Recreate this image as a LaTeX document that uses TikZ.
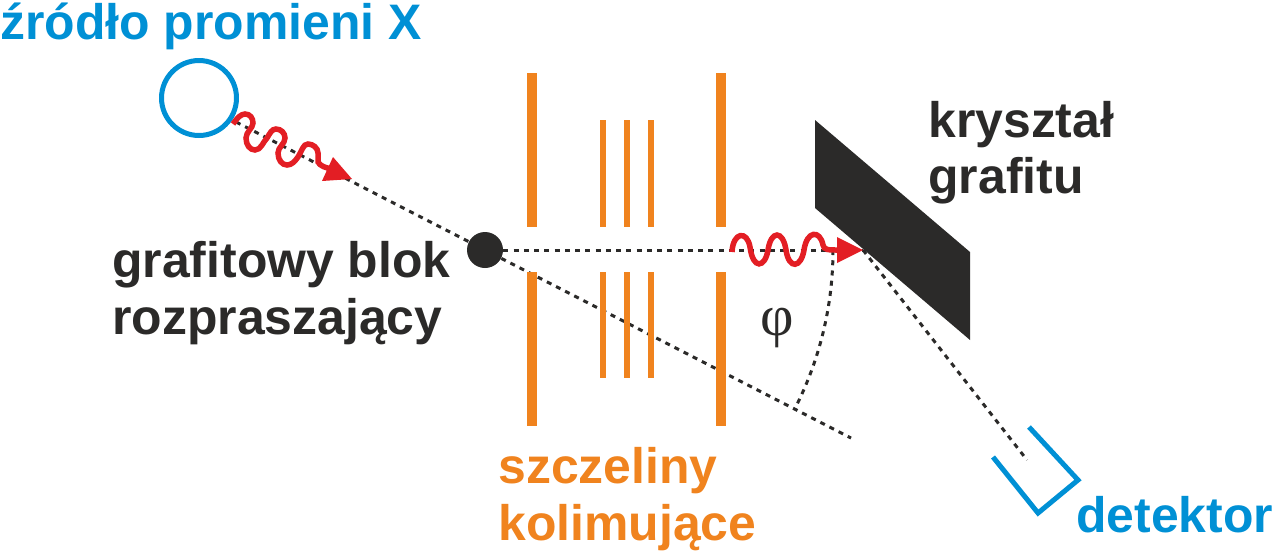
\documentclass[tikz,border=0pt]{standalone}
\usepackage{fontspec}
\setmainfont{Liberation Sans}
\newfontfamily\greekfont{Liberation Serif}
\usepackage{tikz}
\definecolor{niebieski}{HTML}{0090D5}
\definecolor{pomaranczowy}{HTML}{F0831E}
\definecolor{czerwony}{HTML}{E31E24}
\definecolor{ciemny}{HTML}{2B2A29}
\tikzset{
	napis/.style={anchor=west, inner sep=0pt, align=left, font=\fontsize{28.4}{32}\selectfont\bfseries},
	kropki/.style={color=ciemny, line width=0.6mm, dash pattern=on 1mm off 1.05mm},
	szczelina/.style={fill=pomaranczowy, draw=none},
	fala/.style={color=czerwony, line width=1.1mm},
	grot/.style={fill=czerwony, draw=none}
}

\begin{document}
\begin{tikzpicture}[x=0.02cm, y=-0.02cm]
			%%%%% START %%%%%
			
			\useasboundingbox (0, 0) rectangle (1273, 555);
			
			\node[draw=niebieski, line width=1mm, circle, minimum size=1.5cm, inner sep=0pt] (zrodlo) at (199, 98) {};
			\node[fill=ciemny, circle, minimum size=0.72cm, inner sep=0pt] (blok) at (485, 250) {};
			
			\coordinate (start) at (236, 122);
			\coordinate (odbicie) at (863, 250);
			\coordinate (koniec) at (851, 438);
			\coordinate (wnetrze) at (1027, 460);
			
			\draw[kropki] (start) -- (blok);
			\draw[kropki] (blok) -- (odbicie);
			\draw[kropki] (blok) -- (koniec);
			\draw[kropki] (odbicie) -- (wnetrze);
			\draw[kropki] (833, 250) arc (0:27:349);
			
			\fill[szczelina] (527, 73) rectangle (537, 227);
			\fill[szczelina] (527, 272) rectangle (537, 426);
			\fill[szczelina] (716, 73) rectangle (726, 227);
			\fill[szczelina] (716, 272) rectangle (726, 426);
			
			\foreach \x in {603, 627, 651} {
				\fill[szczelina] (\x-3, 120) rectangle (\x+3, 227);
				\fill[szczelina] (\x-3, 272) rectangle (\x+3, 378);
			}
			
			\fill[color=ciemny] (815, 120) -- (970, 252) -- (970, 340) -- (815, 208) -- cycle;
			
			\draw[fala] (233, 124) .. controls (237, 118) and (241, 114) .. (245, 114)
				.. controls (250, 114) and (253, 118) .. (253, 123)
				.. controls (253, 128) and (246, 132) .. (246, 138)
				.. controls (246, 145) and (250, 150) .. (255, 150)
				.. controls (261, 150) and (263, 142) .. (267, 138)
				.. controls (270, 133) and (272, 129) .. (276, 129)
				.. controls (281, 129) and (285, 133) .. (285, 138)
				.. controls (285, 144) and (278, 147) .. (278, 153)
				.. controls (278, 160) and (282, 165) .. (287, 165)
				.. controls (292, 165) and (295, 161) .. (298, 157)
				.. controls (302, 151) and (303, 144) .. (308, 144)
				.. controls (313, 144) and (318, 148) .. (318, 153)
				.. controls (318, 156) and (318, 158) .. (318, 162)
				.. controls (320, 166) and (326, 168) .. (332, 169);
			\fill[grot] (333, 157) -- (352, 179) -- (322, 181) -- cycle;
			
			\draw[fala] (732, 252) .. controls (733, 232) and (747, 230) .. (750, 247)
				.. controls (753, 270) and (765, 268) .. (768, 250)
				.. controls (771, 230) and (783, 230) .. (786, 250)
				.. controls (789, 270) and (801, 268) .. (804, 250)
				.. controls (807, 230) and (820, 230) .. (823, 245)
				.. controls (824, 250) and (828, 250) .. (838, 250);
			\fill[grot] (837, 237) -- (odbicie) -- (837, 263) -- cycle;
			
			\draw[color=niebieski, line width=1mm] (1029, 427) -- (1078, 480) -- (1038, 513) -- (993, 457);
			
			\node[napis, color=niebieski] (tytul) at (0, 26) {źródło promieni X};
			\node[napis, color=ciemny] (rozpraszacz) at (112, 293) {grafitowy blok\\rozpraszający};
			\node[napis, color=ciemny] (krysztal) at (928, 153) {kryształ\\grafitu};
			\node[napis, color=pomaranczowy] (szczeliny) at (498, 499) {szczeliny\\kolimujące};
			\node[napis, color=niebieski] (detektor) at (1076, 515) {detektor};
			\node[color=ciemny, inner sep=0pt, font=\fontsize{33}{35}\selectfont\greekfont] (kat) at (777, 328) {φ};
			
			%%%%% END %%%%%
		\end{tikzpicture}
\end{document}
